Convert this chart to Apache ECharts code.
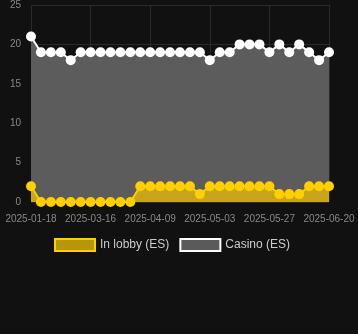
<!DOCTYPE html>
<html>
<head>
<meta charset="utf-8">
<script src="https://cdn.jsdelivr.net/npm/echarts@6/dist/echarts.min.js"></script>
<style>
html,body{margin:0;padding:0;background:#111111;}
#c{width:358px;height:334px;}
</style>
</head>
<body>
<div id="c"></div>
<script>
var dates = ['2025-01-18','2025-02-24','2025-02-28','2025-03-04','2025-03-08','2025-03-12','2025-03-16','2025-03-20','2025-03-24','2025-03-28','2025-04-01','2025-04-05','2025-04-09','2025-04-13','2025-04-17','2025-04-21','2025-04-25','2025-04-29','2025-05-03','2025-05-07','2025-05-11','2025-05-15','2025-05-19','2025-05-23','2025-05-27','2025-05-31','2025-06-04','2025-06-08','2025-06-12','2025-06-16','2025-06-20'];
var inLobby = [2,0,0,0,0,0,0,0,0,0,0,2,2,2,2,2,2,1,2,2,2,2,2,2,2,1,1,1,2,2,2];
var casino = [21,19,19,19,18,19,19,19,19,19,19,19,19,19,19,19,19,19,18,19,19,20,20,20,19,20,19,20,19,18,19];
var yTicks = [0,5,10,15,20,25];

var chart = echarts.init(document.getElementById('c'), null, {renderer:'canvas'});
chart.setOption({
  backgroundColor:'#111111',
  animation:false,
  grid:{left:31,right:29,top:4,bottom:132},
  legend:{
    top:233,
    left:49,
    itemWidth:40,
    itemHeight:12,
    itemGap:10,
    icon:'rect',
    textStyle:{color:'#cccccc',fontSize:12,fontFamily:'Liberation Sans, Arial, sans-serif'},
    data:[
      {name:'In lobby (ES)',itemStyle:{color:'#b8960c',borderColor:'#ffd000',borderWidth:2}},
      {name:'Casino (ES)',itemStyle:{color:'#5a5a5a',borderColor:'#ffffff',borderWidth:2}}
    ]
  },
  xAxis:{
    type:'category',
    data:dates,
    boundaryGap:false,
    axisLine:{show:false},
    axisTick:{show:false},
    axisLabel:{color:'#888888',fontSize:10,interval:5,margin:12,fontFamily:'Liberation Sans, Arial, sans-serif'},
    splitLine:{show:true,interval:5,lineStyle:{color:'#2a2a2a',width:1}}
  },
  yAxis:{
    type:'value',
    min:yTicks[0],
    max:yTicks[yTicks.length-1],
    interval:5,
    axisLine:{show:false},
    axisTick:{show:false},
    axisLabel:{color:'#888888',fontSize:10,margin:10,fontFamily:'Liberation Sans, Arial, sans-serif'},
    splitLine:{lineStyle:{color:'#2a2a2a',width:1}}
  },
  series:[
    {
      name:'Casino (ES)',
      type:'line',
      data:casino,
      symbol:'circle',
      symbolSize:10,
      showAllSymbol:true,
      lineStyle:{color:'#ffffff',width:2},
      itemStyle:{color:'#ffffff'},
      areaStyle:{color:'#5c5c5c',opacity:1},
      z:2
    },
    {
      name:'In lobby (ES)',
      type:'line',
      data:inLobby,
      symbol:'circle',
      symbolSize:10,
      showAllSymbol:true,
      lineStyle:{color:'#ffd000',width:2},
      itemStyle:{color:'#ffd000'},
      areaStyle:{color:'#caa51c',opacity:1},
      z:3
    }
  ]
});
</script>
</body>
</html>
